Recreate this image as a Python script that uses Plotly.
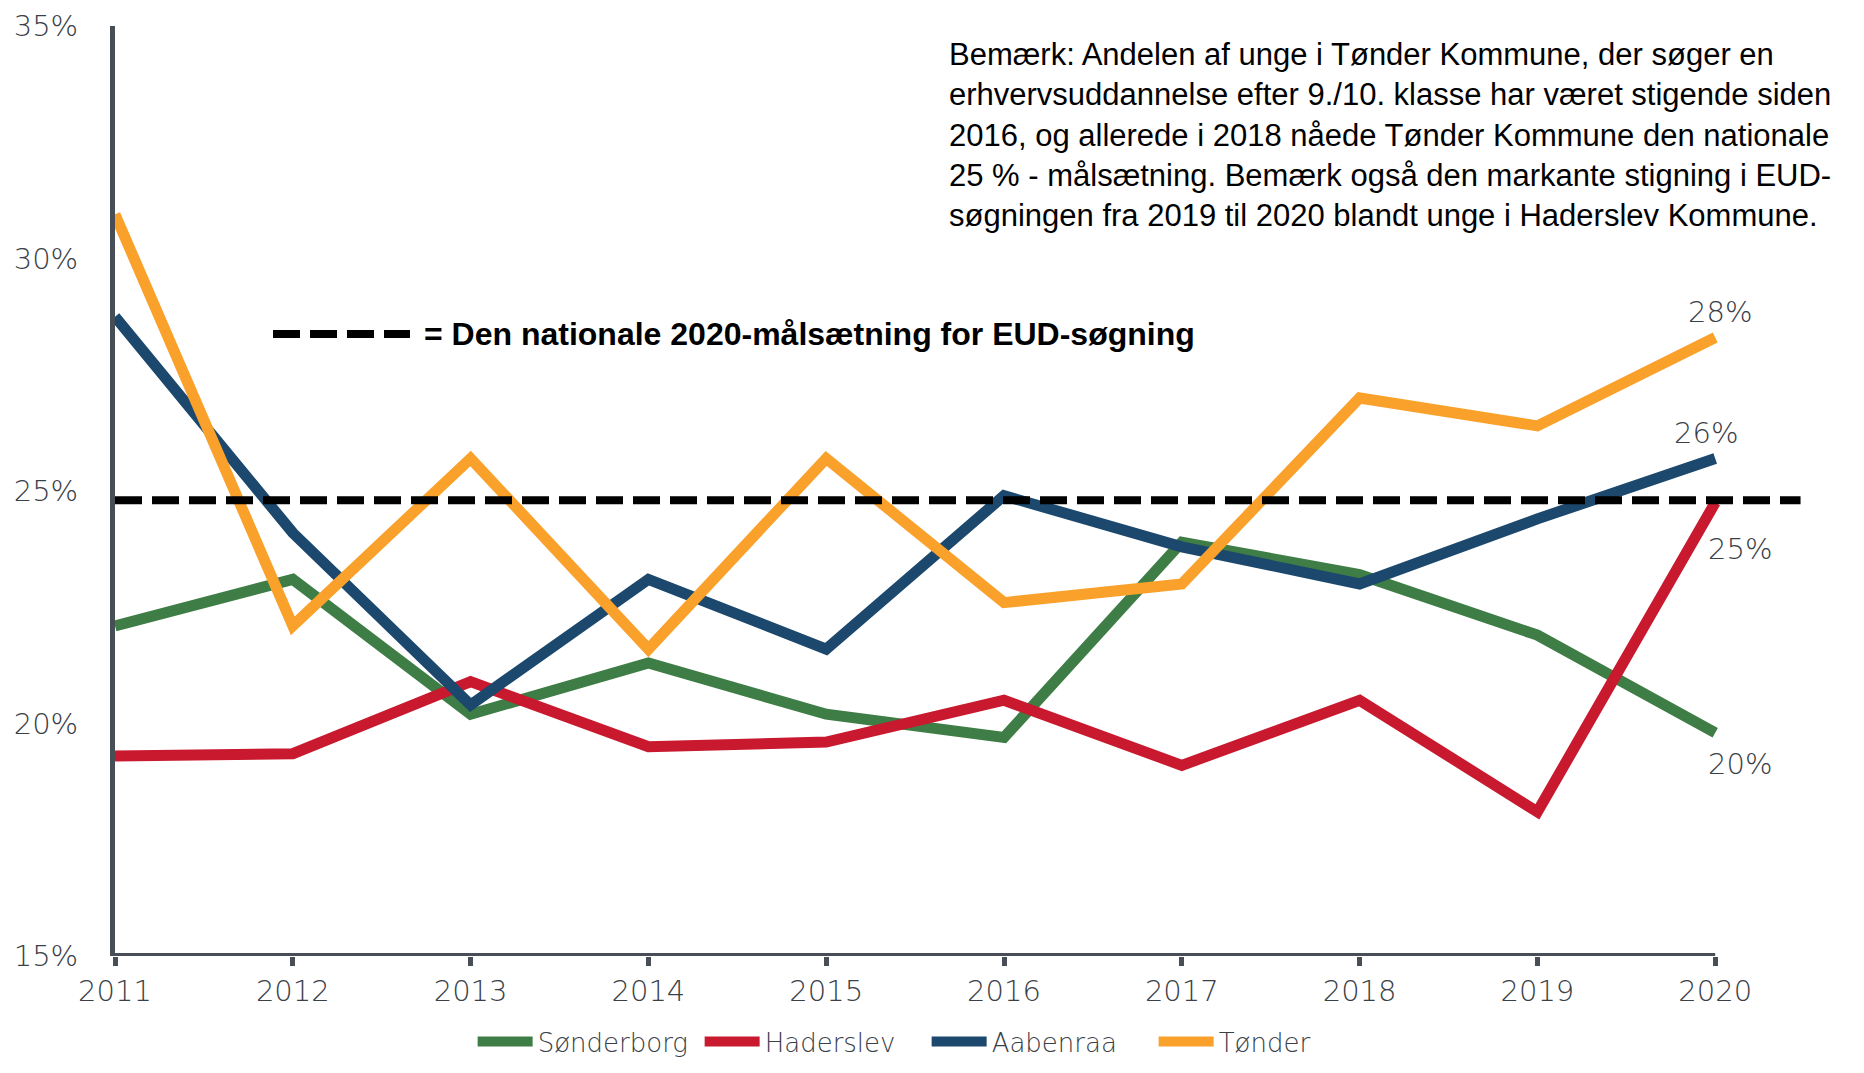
import plotly.graph_objects as go

years = [2011, 2012, 2013, 2014, 2015, 2016, 2017, 2018, 2019, 2020]
sonderborg = [22.1, 23.1, 20.2, 21.3, 20.2, 19.7, 23.9, 23.2, 21.9, 19.8]
haderslev = [19.3, 19.35, 20.9, 19.5, 19.6, 20.5, 19.1, 20.5, 18.1, 24.75]
aabenraa = [28.75, 24.1, 20.4, 23.1, 21.6, 24.9, 23.8, 23.0, 24.4, 25.7]
tonder = [30.95, 22.1, 25.7, 21.6, 25.7, 22.6, 23.0, 27.0, 26.4, 28.3]
target = 24.8
end_labels = ["20%", "25%", "26%", "28%"]
ytick_vals = [15, 20, 25, 30, 35]
ytick_text = ["15%", "20%", "25%", "30%", "35%"]

series = [
    ("Sønderborg", sonderborg, "#3E7D45"),
    ("Haderslev", haderslev, "#C8192E"),
    ("Aabenraa", aabenraa, "#1B486C"),
    ("Tønder", tonder, "#F9A12B"),
]

GRAY = "#394047"
AXIS = "#474E55"
TFONT = dict(family="DejaVu Sans", size=29, color=GRAY, weight=300)

fig = go.Figure()
for name, vals, col in series:
    fig.add_trace(go.Scatter(x=years, y=vals, mode="lines", name=name,
                             line=dict(color=col, width=11)))

# national target dashed line
fig.add_trace(go.Scatter(x=[years[0], 2020.48], y=[target, target], mode="lines",
                         showlegend=False, hoverinfo="skip",
                         line=dict(color="black", width=8, dash="27px,10px")))

# x axis line
fig.add_shape(type="line", x0=years[0], x1=years[-1], y0=15, y1=15,
              xref="x", yref="y", line=dict(color=AXIS, width=6), layer="above")

# end labels
offsets = [(25, -31), (25, -46), (-9, 25), (5, 26)]
for (name, vals, col), lab, (dx, dy) in zip(series, end_labels, offsets):
    fig.add_annotation(x=years[-1], y=vals[-1], text=lab, showarrow=False,
                       xshift=dx, yshift=dy, font=TFONT)

# dashed legend sample + text (page coords -> paper)
def px(x):
    return (x - 115) / 1698

def py(y):
    return (956 - y) / 930

fig.add_shape(type="line", xref="paper", yref="paper",
              x0=px(273), x1=px(410), y0=py(334), y1=py(334),
              line=dict(color="black", width=8, dash="27px,10px"))
fig.add_annotation(xref="paper", yref="paper", x=px(422), y=py(334),
                   xanchor="left", yanchor="middle", showarrow=False,
                   text="<b>= Den nationale 2020-målsætning for EUD-søgning</b>",
                   font=dict(family="Liberation Sans", size=32, color="black"))

note = ("Bemærk: Andelen af unge i Tønder Kommune, der søger en<br>"
        "erhvervsuddannelse efter 9./10. klasse har været stigende siden<br>"
        "2016, og allerede i 2018 nåede Tønder Kommune den nationale<br>"
        "25 % - målsætning. Bemærk også den markante stigning i EUD-<br>"
        "søgningen fra 2019 til 2020 blandt unge i Haderslev Kommune.")
fig.add_annotation(xref="paper", yref="paper", x=px(947), y=py(35),
                   xanchor="left", yanchor="top", align="left", showarrow=False,
                   text=note,
                   font=dict(family="Liberation Sans", size=31, color="black"))

fig.update_layout(
    width=1848, height=1057,
    margin=dict(l=107, r=43, t=18, b=109, autoexpand=False),
    paper_bgcolor="white", plot_bgcolor="white",
    showlegend=True,
    legend=dict(orientation="h", x=0.478, xanchor="center", yref="container",
                y=0.0, yanchor="bottom",
                font=dict(family="DejaVu Sans", size=26, color=GRAY, weight=300),
                itemwidth=55, tracegroupgap=0, entrywidth=157),
    xaxis=dict(range=[2011, 2020.55], tickvals=years, ticktext=[str(y) for y in years],
               showgrid=False, zeroline=False, showline=False,
               ticks="outside", ticklen=9, tickwidth=5, tickcolor=AXIS,
               tickfont=TFONT),
    yaxis=dict(range=[15, 35], tickvals=ytick_vals, ticktext=ytick_text,
               showgrid=False, zeroline=False, showline=True, linewidth=5, linecolor=AXIS,
               ticks="", ticklabelstandoff=26, tickfont=TFONT),
)

fig.write_html("out.html")
